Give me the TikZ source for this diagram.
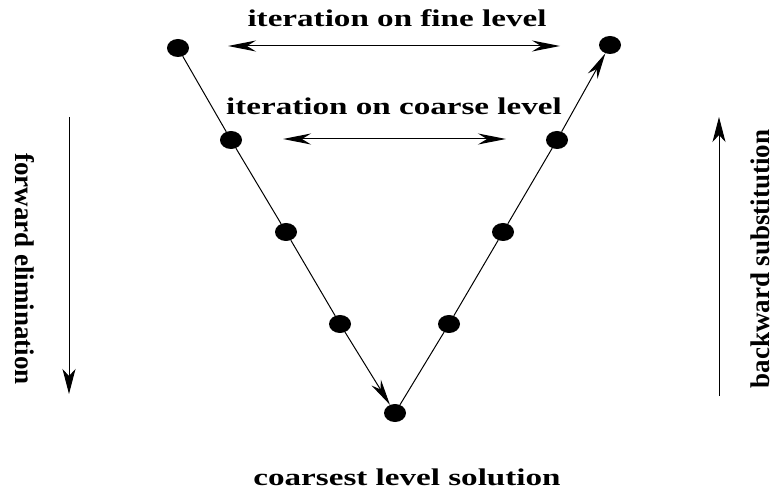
\documentclass[tikz,border=0pt]{standalone}
\usepackage{fontspec}
\setmainfont{Liberation Serif}
\newfontfamily\widefont[FakeStretch=1.38]{Liberation Serif}
\usetikzlibrary{arrows.meta,shapes.geometric}
\begin{document}
\begin{tikzpicture}[x=1pt,y=-1pt,
  dot/.style={ellipse,fill=black,minimum width=22pt,minimum height=18pt,inner sep=0pt},
  conn/.style={line width=1pt},
  arr/.style={line width=1pt,-{Stealth[length=26pt,width=11pt,inset=8pt]}},
  darr/.style={line width=1pt,{Stealth[length=28pt,width=11pt,inset=9pt]}-{Stealth[length=28pt,width=11pt,inset=9pt]}},
  varr/.style={line width=1pt,-{Stealth[length=25pt,width=13pt,inset=7pt]}},
  htext/.style={font=\widefont\fontsize{24}{28}\selectfont\bfseries,inner sep=0pt,anchor=base},
  vtext/.style={font=\fontsize{27}{32}\selectfont\bfseries,inner sep=0pt,anchor=base}]
\useasboundingbox (0,0) rectangle (774,494);
\node[dot] (l1) at (178,48) {};
\node[dot] (l2) at (231,140) {};
\node[dot] (l3) at (286,232) {};
\node[dot] (l4) at (340,324) {};
\node[dot] (b) at (395,413) {};
\node[dot] (r4) at (449,324) {};
\node[dot] (r3) at (503,232) {};
\node[dot] (r2) at (557,140) {};
\node[dot] (r1) at (610,45) {};
\draw[conn] (l1) -- (l2);
\draw[conn] (l2) -- (l3);
\draw[conn] (l3) -- (l4);
\draw[arr] (l4) -- (b);
\draw[conn] (b) -- (r4);
\draw[conn] (r4) -- (r3);
\draw[conn] (r3) -- (r2);
\draw[arr] (r2) -- (r1);
\coordinate (f1) at (228,46);
\coordinate (f2) at (560,46);
\coordinate (c1) at (283,139);
\coordinate (c2) at (506,139);
\draw[darr] (f1) -- (f2);
\draw[darr] (c1) -- (c2);
\coordinate (v1) at (69,117);
\coordinate (v2) at (69,394);
\coordinate (w1) at (719,396);
\coordinate (w2) at (719,117);
\draw[varr] (v1) -- (v2);
\draw[varr] (w1) -- (w2);
\node[htext] (tf) at (397,27) {iteration on fine level};
\node[htext] (tc) at (394,115) {iteration on coarse level};
\node[htext] (ts) at (407,485) {coarsest level solution};
\node[vtext,rotate=-90] (fe) at (15,269) {forward elimination};
\node[vtext,rotate=90] (bs) at (769,259) {backward substitution};
\end{tikzpicture}
\end{document}
